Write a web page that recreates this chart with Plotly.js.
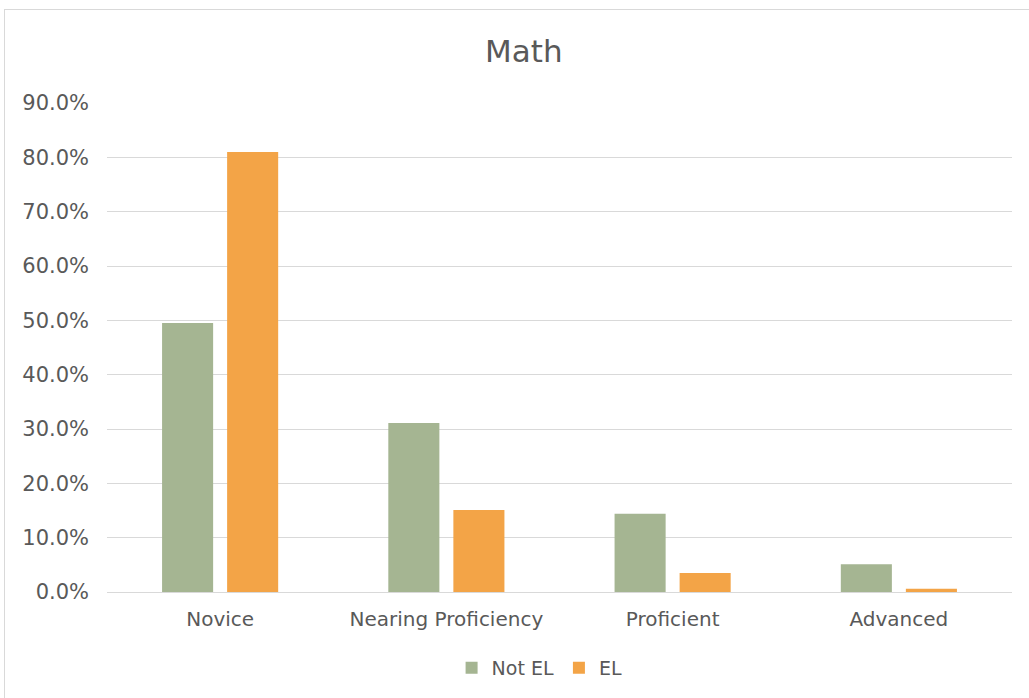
<!DOCTYPE html>
<html>
<head>
<meta charset="utf-8">
<script src="https://cdn.plot.ly/plotly-3.0.1.min.js"></script>
<style>
  html, body { margin: 0; padding: 0; background: #fff; }
  #chart { width: 1029px; height: 698px; }
  #frame { position: absolute; left: 4px; top: 9px; width: 1040px; height: 720px;
           border: 1px solid #d9d9d9; pointer-events: none; }
</style>
</head>
<body>
<div id="chart"></div>
<div id="frame"></div>
<script>
const categories = ["Novice", "Nearing Proficiency", "Proficient", "Advanced"];
const notEL = [0.495, 0.311, 0.144, 0.051];
const el = [0.810, 0.151, 0.035, 0.006];
const yTicks = [0, 0.1, 0.2, 0.3, 0.4, 0.5, 0.6, 0.7, 0.8, 0.9];

const font = "'DejaVu Sans', sans-serif";
const traces = [
  { type: "bar", name: "Not EL", x: categories, y: notEL,
    marker: { color: "#A5B592" }, hoverinfo: "y" },
  { type: "bar", name: "EL", x: categories, y: el,
    marker: { color: "#F3A447" }, hoverinfo: "y" }
];
const layout = {
  width: 1029, height: 698,
  margin: { l: 107, r: 17, t: 103, b: 106, autoexpand: false },
  paper_bgcolor: "rgba(0,0,0,0)", plot_bgcolor: "#fff",
  font: { family: font, color: "#595959", size: 20 },
  title: { text: "Math", font: { size: 31, color: "#595959", family: font },
           x: 0.509, xanchor: "center", y: 0.927, yanchor: "middle" },
  barmode: "group", bargap: 0.425, bargroupgap: 0.215,
  xaxis: { type: "category", showgrid: false, showline: true, linecolor: "#d9d9d9",
           linewidth: 1, ticks: "", ticklabelstandoff: 9, automargin: false,
           tickfont: { size: 20, color: "#595959" } },
  yaxis: { range: [0, 0.9], tickvals: yTicks, tickformat: ".1%", automargin: false,
           showgrid: true, gridcolor: "#d9d9d9", gridwidth: 1, zeroline: false,
           showline: false, ticks: "", ticklabelstandoff: 17,
           tickfont: { size: 21, color: "#595959" } },
  showlegend: true,
  legend: { orientation: "h", x: 0.478, xanchor: "center", y: -0.155, yanchor: "middle",
            font: { size: 19, color: "#595959" }, itemwidth: 30, tracegroupgap: 0 }
};
Plotly.newPlot("chart", traces, layout, { displayModeBar: false, staticPlot: true });
</script>
</body>
</html>
